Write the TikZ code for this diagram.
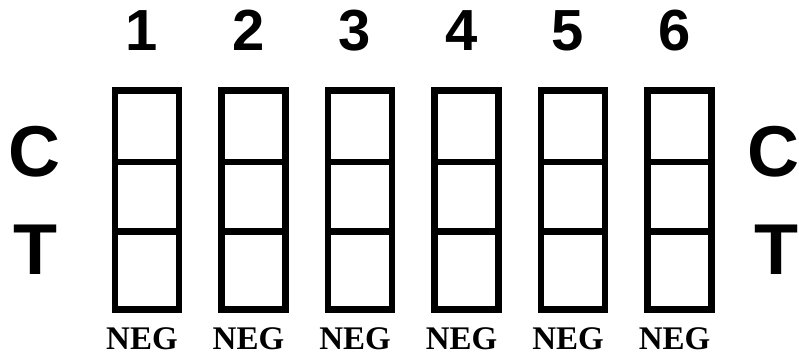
\documentclass[tikz,border=0pt]{standalone}
\usepackage{fontspec}
\setmainfont{Liberation Serif}
\setsansfont{Liberation Sans}
\begin{document}
\begin{tikzpicture}[x=1pt,y=-1pt,
  stripbox/.style={draw=black,line width=6.7pt,fill=white},
  divline/.style={draw=black,line width=6.7pt},
  numlabel/.style={font=\sffamily\bfseries\fontsize{58}{58}\selectfont,inner sep=0pt,outer sep=0pt,anchor=base},
  sidelabel/.style={font=\sffamily\bfseries\fontsize{72}{72}\selectfont,inner sep=0pt,outer sep=0pt,anchor=base},
  neglabel/.style={font=\rmfamily\bfseries\fontsize{33}{33}\selectfont,inner sep=0pt,outer sep=0pt,anchor=base}]
\useasboundingbox (0,0) rectangle (799,356);
\foreach \i in {1,...,6}{
  \pgfmathsetmacro{\cx}{147+106.5*(\i-1)}
  \draw[stripbox] (\cx-32,90.7) rectangle (\cx+32,309.3);
  \draw[divline] (\cx-32,162) -- (\cx+32,162);
  \draw[divline] (\cx-32,231.5) -- (\cx+32,231.5);
  \node[numlabel] (n\i) at (\cx-5,50) {\i};
  \node[neglabel] (g\i) at (\cx-5,349.5) {NEG};
}
\node[sidelabel] (cl) at (34,176.5) {C};
\node[sidelabel] (tl) at (35.5,274.3) {T};
\node[sidelabel] (cr) at (773.5,176.5) {C};
\node[sidelabel] (tr) at (776.5,274.3) {T};
\end{tikzpicture}
\end{document}
